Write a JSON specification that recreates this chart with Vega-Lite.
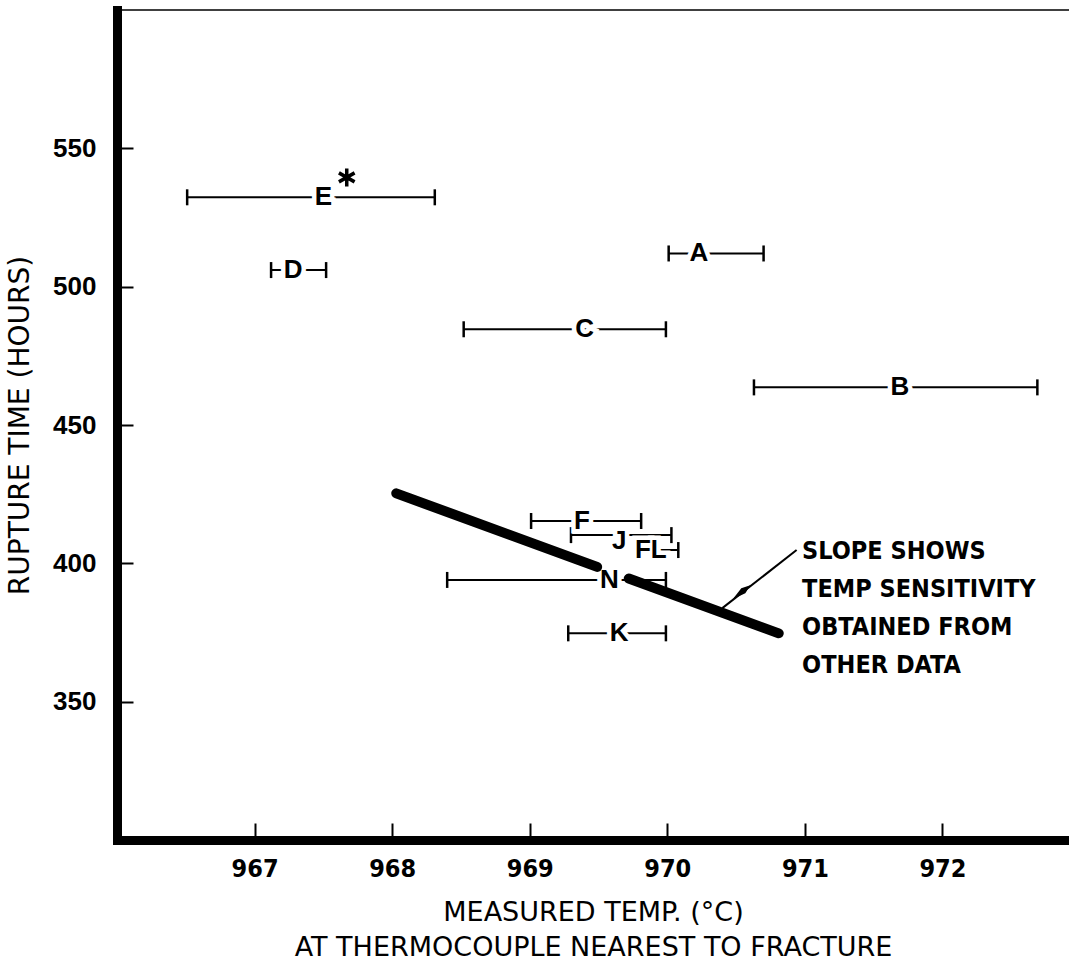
{
  "$schema": "https://vega.github.io/schema/vega-lite/v6.json",
  "width": 952,
  "height": 830,
  "autosize": "none",
  "padding": {"left": 117, "top": 10, "right": 0, "bottom": 124},
  "background": "white",
  "config": {"view": {"stroke": null}, "axis": {"grid": false}},
  "datasets": {
    "specimens": [
      {"specimen": "E", "temp_min": 966.51, "temp_max": 968.31, "temp_label": 967.5, "hours": 532.3, "label_hours": 532.3},
      {"specimen": "D", "temp_min": 967.12, "temp_max": 967.52, "temp_label": 967.28, "hours": 506.0, "label_hours": 506.0},
      {"specimen": "A", "temp_min": 970.01, "temp_max": 970.7, "temp_label": 970.23, "hours": 512.0, "label_hours": 512.0},
      {"specimen": "C", "temp_min": 968.52, "temp_max": 969.99, "temp_label": 969.4, "hours": 484.6, "label_hours": 484.6},
      {"specimen": "B", "temp_min": 970.63, "temp_max": 972.69, "temp_label": 971.69, "hours": 463.6, "label_hours": 463.6},
      {"specimen": "F", "temp_min": 969.01, "temp_max": 969.81, "temp_label": 969.38, "hours": 415.3, "label_hours": 415.3},
      {"specimen": "J", "temp_min": 969.3, "temp_max": 970.03, "temp_label": 969.65, "hours": 410.2, "label_hours": 408.1},
      {"specimen": "FL", "temp_min": 969.79, "temp_max": 970.08, "temp_label": 969.88, "hours": 404.8, "label_hours": 404.8},
      {"specimen": "N", "temp_min": 968.4, "temp_max": 969.99, "temp_label": 969.58, "hours": 394.0, "label_hours": 394.0},
      {"specimen": "K", "temp_min": 969.28, "temp_max": 969.99, "temp_label": 969.65, "hours": 374.7, "label_hours": 374.7}
    ],
    "slope": [
      {"segment": 1, "temp": 968.03, "hours": 425.3},
      {"segment": 1, "temp": 969.49, "hours": 398.7},
      {"segment": 2, "temp": 969.72, "hours": 394.5},
      {"segment": 2, "temp": 970.81, "hours": 374.7}
    ],
    "pointer": [
      {"temp": 970.94, "hours": 404.8},
      {"temp": 970.4, "hours": 383.8}
    ],
    "pointer_head": [{"temp": 970.54, "hours": 389.6}],
    "flag": [{"temp": 967.67, "hours": 539.5}],
    "note": [{"temp": 970.98, "hours": 401.6}],
    "frame": [{"hours": 600}]
  },
  "layer": [
    {
      "data": {"name": "specimens"},
      "mark": {"type": "rule", "strokeWidth": 2, "color": "black"},
      "encoding": {
        "x": {
          "field": "temp_min",
          "type": "quantitative",
          "scale": {"domain": [966, 972.92], "nice": false, "zero": false},
          "axis": {
            "values": [967, 968, 969, 970, 971, 972],
            "format": "d",
            "domainWidth": 9,
            "domainColor": "black",
            "domainCap": "square",
            "tickColor": "black",
            "tickWidth": 2,
            "tickSize": -17,
            "labelPadding": 33,
            "labelFont": "DejaVu Sans Condensed",
            "labelFontSize": 25,
            "labelFontWeight": "bold",
            "labelColor": "black",
            "title": ["MEASURED TEMP. (°C)", "AT THERMOCOUPLE NEAREST TO FRACTURE"],
            "titleFont": "DejaVu Sans",
            "titleFontSize": 27,
            "titleFontWeight": "normal",
            "titleColor": "black",
            "titleLineHeight": 35,
            "titlePadding": 18
          }
        },
        "x2": {"field": "temp_max"},
        "y": {
          "field": "hours",
          "type": "quantitative",
          "scale": {"domain": [300, 600], "nice": false, "zero": false},
          "axis": {
            "values": [350, 400, 450, 500, 550],
            "domainWidth": 9,
            "domainColor": "black",
            "domainCap": "square",
            "tickColor": "black",
            "tickWidth": 2,
            "tickSize": -16,
            "labelPadding": 37,
            "labelFont": "Liberation Sans, sans-serif",
            "labelFontSize": 26,
            "labelFontWeight": "bold",
            "labelColor": "black",
            "title": "RUPTURE TIME (HOURS)",
            "titleFont": "DejaVu Sans",
            "titleFontSize": 28,
            "titleFontWeight": "normal",
            "titleColor": "black",
            "titlePadding": 18
          }
        }
      }
    },
    {
      "data": {"name": "specimens"},
      "mark": {"type": "point", "shape": "M0,-1V1", "size": 256, "filled": false, "color": "black", "strokeWidth": 2.5, "opacity": 1},
      "encoding": {
        "x": {"field": "temp_min", "type": "quantitative"},
        "y": {"field": "hours", "type": "quantitative"}
      }
    },
    {
      "data": {"name": "specimens"},
      "mark": {"type": "point", "shape": "M0,-1V1", "size": 256, "filled": false, "color": "black", "strokeWidth": 2.5, "opacity": 1},
      "encoding": {
        "x": {"field": "temp_max", "type": "quantitative"},
        "y": {"field": "hours", "type": "quantitative"}
      }
    },
    {
      "data": {"name": "specimens"},
      "mark": {"type": "text", "font": "Liberation Sans, sans-serif", "fontSize": 26, "fontWeight": "bold", "fill": "white", "stroke": "white", "strokeWidth": 9, "baseline": "middle", "align": "center"},
      "encoding": {
        "x": {"field": "temp_label", "type": "quantitative"},
        "y": {"field": "label_hours", "type": "quantitative"},
        "text": {"field": "specimen"}
      }
    },
    {
      "data": {"name": "specimens"},
      "mark": {"type": "text", "font": "Liberation Sans, sans-serif", "fontSize": 26, "fontWeight": "bold", "color": "black", "baseline": "middle", "align": "center"},
      "encoding": {
        "x": {"field": "temp_label", "type": "quantitative"},
        "y": {"field": "label_hours", "type": "quantitative"},
        "text": {"field": "specimen"}
      }
    },
    {
      "data": {"name": "slope"},
      "mark": {"type": "line", "color": "black", "strokeWidth": 10, "strokeCap": "round"},
      "encoding": {
        "x": {"field": "temp", "type": "quantitative"},
        "y": {"field": "hours", "type": "quantitative"},
        "detail": {"field": "segment"}
      }
    },
    {
      "data": {"name": "pointer"},
      "mark": {"type": "line", "color": "black", "strokeWidth": 2},
      "encoding": {
        "x": {"field": "temp", "type": "quantitative"},
        "y": {"field": "hours", "type": "quantitative"}
      }
    },
    {
      "data": {"name": "pointer_head"},
      "mark": {"type": "point", "shape": "M0,-1L0.3,0.2L0,1L-0.3,0.2Z", "size": 484, "filled": true, "color": "black", "angle": 232, "opacity": 1},
      "encoding": {
        "x": {"field": "temp", "type": "quantitative"},
        "y": {"field": "hours", "type": "quantitative"}
      }
    },
    {
      "data": {"name": "flag"},
      "mark": {"type": "point", "shape": "M0,-1V1M-0.87,-0.5L0.87,0.5M-0.87,0.5L0.87,-0.5", "size": 324, "filled": false, "color": "black", "strokeWidth": 3.5, "opacity": 1},
      "encoding": {
        "x": {"field": "temp", "type": "quantitative"},
        "y": {"field": "hours", "type": "quantitative"}
      }
    },
    {
      "data": {"name": "note"},
      "mark": {
        "type": "text",
        "align": "left",
        "baseline": "alphabetic",
        "font": "DejaVu Sans Condensed",
        "fontSize": 25,
        "fontWeight": "bold",
        "lineHeight": 38,
        "color": "black"
      },
      "encoding": {
        "x": {"field": "temp", "type": "quantitative"},
        "y": {"field": "hours", "type": "quantitative"},
        "text": {"value": ["SLOPE  SHOWS", "TEMP SENSITIVITY", "OBTAINED  FROM", "OTHER  DATA"]}
      }
    },
    {
      "data": {"name": "frame"},
      "mark": {"type": "rule", "color": "black", "strokeWidth": 1.5},
      "encoding": {"y": {"field": "hours", "type": "quantitative"}}
    }
  ]
}
